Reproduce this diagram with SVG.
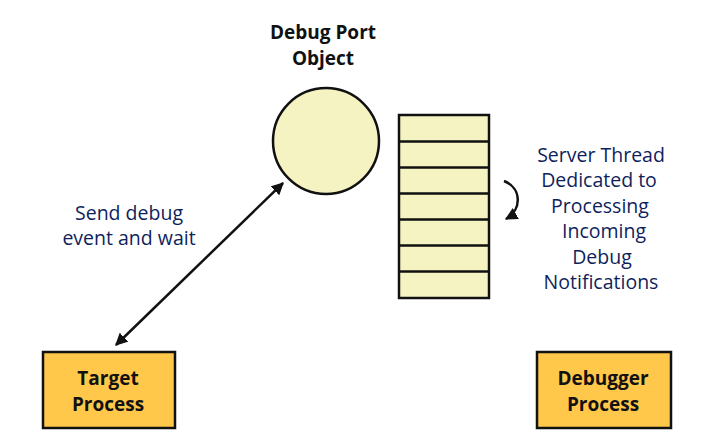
<svg xmlns="http://www.w3.org/2000/svg" width="711" height="445" viewBox="0 0 711 445">
<style>
.lbl{font-family:"Open Sans","Noto Sans",sans-serif;font-size:19.5px;fill:#0f1f5c;text-anchor:middle}
.bold{font-family:"Open Sans","Noto Sans",sans-serif;font-size:19px;font-weight:bold;fill:#111;text-anchor:middle}
.proc{fill:#FFC84A;stroke:#111;stroke-width:2.5}
.pale{fill:#F6F3C2;stroke:#111;stroke-width:2.5}
.conn{stroke:#111;stroke-width:2.5;fill:none}
</style>
<defs>
<marker id="ah" viewBox="0 0 10 10" refX="9" refY="5" markerWidth="5" markerHeight="5" orient="auto-start-reverse" markerUnits="strokeWidth">
<path d="M0,0 L10,5 L0,10 z" fill="#111"/>
</marker>
</defs>
<rect width="711" height="445" fill="#fff"/>
<g id="debug-port">
<circle class="pale" cx="326" cy="141" r="53"/>
<text class="bold" x="323" y="39">Debug Port</text>
<text class="bold" x="323" y="65">Object</text>
</g>
<g id="queue">
<rect class="pale" x="399" y="115" width="90" height="183"/>
<path class="conn" d="M399,141.5H489M399,167.5H489M399,193.5H489M399,219.5H489M399,245.5H489M399,271.5H489"/>
</g>
<g id="server-thread-label">
<text class="lbl" x="601" y="162">Server Thread</text>
<text class="lbl" x="599" y="187">Dedicated to</text>
<text class="lbl" x="600" y="213">Processing</text>
<text class="lbl" x="604" y="238">Incoming</text>
<text class="lbl" x="602" y="264">Debug</text>
<text class="lbl" x="601" y="289">Notifications</text>
</g>
<g id="target-process">
<rect class="proc" x="43" y="352" width="132" height="76"/>
<text class="bold" x="108" y="385">Target</text>
<text class="bold" x="108" y="411">Process</text>
</g>
<g id="debugger-process">
<rect class="proc" x="537" y="352" width="134" height="76"/>
<text class="bold" x="603" y="385">Debugger</text>
<text class="bold" x="603" y="411">Process</text>
</g>
<g id="connectors">
<line class="conn" x1="116" y1="345" x2="283" y2="183" marker-start="url(#ah)" marker-end="url(#ah)"/>
<path class="conn" d="M504,181 C522,188 522,210 506,219" marker-end="url(#ah)"/>
<text class="lbl" x="129" y="220">Send debug</text>
<text class="lbl" x="129" y="245">event and wait</text>
</g>
</svg>
